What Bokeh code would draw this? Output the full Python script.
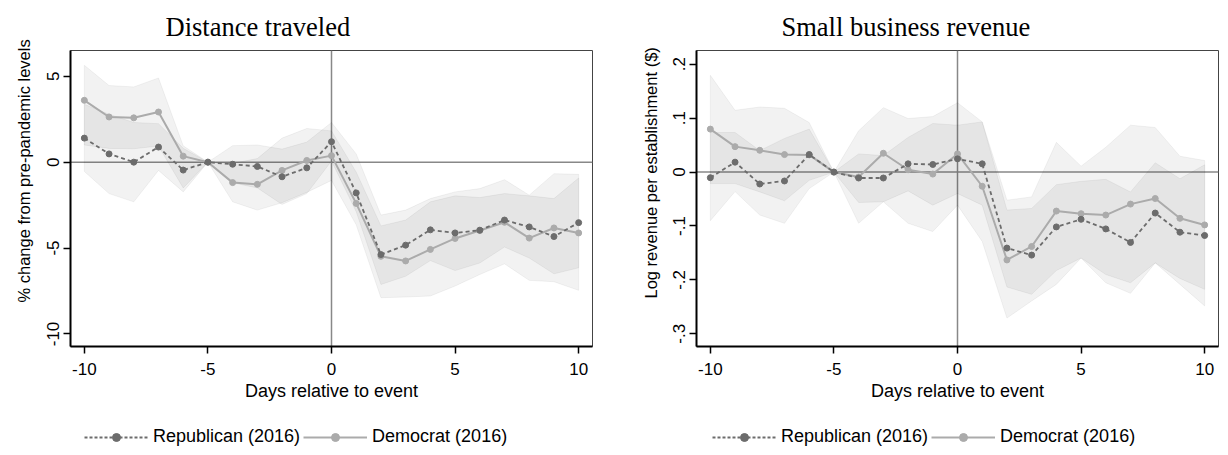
from bokeh.plotting import figure
from bokeh.models import Range1d, FixedTicker, Span, Legend, LegendItem, Title
from bokeh.layouts import row, column
from bokeh.embed import file_html
from bokeh.resources import INLINE

days = list(range(-10, 11))
x_ticks = [-10, -5, 0, 5, 10]
x_tick_labels = ["-10", "-5", "0", "5", "10"]

# Panel 1: Distance traveled
dist_rep = [1.40, 0.48, 0.00, 0.88, -0.46, 0.00, -0.12, -0.25, -0.85, -0.33, 1.19,
            -1.79, -5.38, -4.83, -3.94, -4.12, -3.96, -3.37, -3.77, -4.33, -3.52]
dist_rep_hi = [3.37, 2.79, 2.31, 2.24, 0.81, 0.00, 0.96, 1.00, 0.76, 1.17, 2.31,
               0.48, -3.08, -2.79, -2.12, -1.73, -1.54, -1.02, -1.92, -0.67, -0.71]
dist_rep_lo = [-0.54, -1.83, -2.31, -0.48, -1.73, 0.00, -1.20, -1.50, -2.46, -1.83, 0.07,
               -2.88, -7.12, -6.64, -5.73, -6.31, -5.87, -4.94, -5.58, -6.50, -6.15]
dist_dem = [3.60, 2.63, 2.58, 2.92, 0.35, 0.00, -1.19, -1.29, -0.48, 0.10, 0.38,
            -2.40, -5.48, -5.75, -5.08, -4.44, -3.98, -3.50, -4.42, -3.83, -4.12]
dist_dem_hi = [5.64, 4.46, 4.38, 4.90, 0.95, 0.00, -0.07, 0.21, 1.40, 1.96, 1.82,
               -0.58, -3.71, -3.37, -2.31, -1.96, -2.06, -1.83, -1.96, -2.12, -0.92]
dist_dem_lo = [1.00, 0.80, 0.78, 0.94, -1.50, 0.00, -2.31, -2.79, -2.36, -1.76, -1.06,
               -3.65, -7.89, -7.85, -7.79, -7.21, -6.54, -5.92, -6.88, -6.96, -7.46]
dist_y_ticks = [-10, -5, 0, 5]
dist_y_labels = ["-10", "-5", "0", "5"]

# Panel 2: Small business revenue
rev_rep = [-0.0104, 0.0184, -0.0221, -0.0165, 0.0325, 0.0, -0.0110, -0.0110, 0.0153, 0.0141, 0.0245,
           0.0153, -0.141, -0.154, -0.1017, -0.0876, -0.1054, -0.1305, -0.0760, -0.1115, -0.1176]
rev_rep_hi = [0.0735, 0.0735, 0.0398, 0.0625, 0.0797, 0.0, 0.0337, 0.0306, 0.0643, 0.0901, 0.0870,
              0.0931, -0.0705, -0.0674, -0.0233, -0.0172, -0.0135, -0.0368, 0.0172, -0.0123, 0.0135]
rev_rep_lo = [-0.0901, -0.0362, -0.0797, -0.0950, -0.0306, 0.0, -0.0950, -0.0551, -0.0950, -0.1103, -0.0613,
              -0.1287, -0.2708, -0.2390, -0.2083, -0.1593, -0.2053, -0.2249, -0.1685, -0.2083, -0.2482]
rev_dem = [0.0797, 0.0472, 0.0404, 0.0325, 0.0319, 0.0, -0.0092, 0.0349, 0.0043, -0.0037, 0.0337,
           -0.0263, -0.163, -0.138, -0.0723, -0.0772, -0.0797, -0.0594, -0.0490, -0.0858, -0.098]
rev_dem_hi = [0.1795, 0.1146, 0.1207, 0.1183, 0.0919, 0.0, 0.0766, 0.1195, 0.0993, 0.1029, 0.1287,
              0.0931, -0.0521, -0.0460, 0.0551, 0.0110, 0.0460, 0.0870, 0.0827, 0.0294, 0.0214]
rev_dem_lo = [-0.0214, -0.0214, -0.0368, -0.0533, -0.0153, 0.0, -0.0564, -0.0551, -0.0349, -0.0613, -0.0398,
              -0.0613, -0.2132, -0.2267, -0.1826, -0.1593, -0.1900, -0.2053, -0.1685, -0.1973, -0.2175]
rev_y_ticks = [-0.3, -0.2, -0.1, 0.0, 0.1, 0.2]
rev_y_labels = ["-.3", "-.2", "-.1", "0", ".1", ".2"]

legend_labels = ["Republican (2016)", "Democrat (2016)"]

REP_COLOR = "#6c6c6c"
DEM_COLOR = "#ababab"
SANS = "Liberation Sans"
SERIF = "Liberation Serif"
W = 612
H = 420
LEG_H = 32


def make_panel(title, ylabel, rep, rep_lo, rep_hi, dem, dem_lo, dem_hi, y_range, y_ticks, y_labels,
               min_left, min_right, title_offset, ylabel_offset, ylabel_standoff):
    p = figure(width=W, height=H, output_backend="svg", toolbar_location=None,
               x_range=Range1d(-10.56, 10.56), y_range=Range1d(*y_range),
               min_border_left=min_left, min_border_right=min_right,
               min_border_top=47, min_border_bottom=H - 346)
    p.background_fill_color = "white"
    p.border_fill_color = "white"
    p.outline_line_color = "#444444"
    p.outline_line_width = 1
    p.xgrid.visible = False
    p.ygrid.visible = False

    p.title.text = title
    p.title.text_font = SERIF
    p.title.text_font_size = "26.5px"
    p.title.text_font_style = "normal"
    p.title.text_color = "black"
    p.title.align = "left"
    p.title.offset = title_offset
    p.title.standoff = 18

    # confidence bands
    for lo, hi in ((rep_lo, rep_hi), (dem_lo, dem_hi)):
        p.patch(days + days[::-1], hi + lo[::-1], fill_color="black", fill_alpha=0.05,
                line_color="black", line_alpha=0.05, line_width=1)

    p.add_layout(Span(location=0, dimension="width", line_color="#888888", line_width=1.5, level="underlay"))
    p.add_layout(Span(location=0, dimension="height", line_color="#888888", line_width=1.5, level="underlay"))

    p.line(days, dem, line_color=DEM_COLOR, line_width=2)
    p.scatter(days, dem, size=6, fill_color=DEM_COLOR, line_color=DEM_COLOR)
    p.line(days, rep, line_color=REP_COLOR, line_width=1.8, line_dash="4 3")
    p.scatter(days, rep, size=6, fill_color=REP_COLOR, line_color=REP_COLOR)

    p.xaxis.ticker = FixedTicker(ticks=x_ticks)
    p.xaxis.major_label_overrides = dict(zip(x_ticks, x_tick_labels))
    p.yaxis.ticker = FixedTicker(ticks=y_ticks)
    p.yaxis.major_label_overrides = dict(zip(y_ticks, y_labels))
    p.yaxis.major_label_orientation = "vertical"

    for ax in (p.xaxis[0], p.yaxis[0]):
        ax.axis_line_color = "black"
        ax.axis_line_width = 2
        ax.major_tick_line_color = "black"
        ax.major_tick_line_width = 1.5
        ax.major_tick_out = 7
        ax.major_tick_in = 0
        ax.minor_tick_out = 0
        ax.minor_tick_in = 0
        ax.major_label_text_font = SANS
        ax.major_label_text_font_size = "17px"
        ax.major_label_text_color = "black"
        ax.axis_label_text_font = SANS
        ax.axis_label_text_font_style = "normal"
        ax.axis_label_text_color = "black"
    p.xaxis.axis_label_text_font_size = "18px"
    p.xaxis.axis_label = "Days relative to event"
    p.xaxis.major_label_standoff = 9
    p.xaxis.axis_label_standoff = 3
    p.yaxis.major_label_standoff = 4

    yt = Title(text=ylabel, align="left", offset=ylabel_offset, text_font=SANS,
               text_font_size="16.5px", text_font_style="normal",
               text_color="black", standoff=ylabel_standoff)
    p.add_layout(yt, "left")
    return p


def make_legend_fig(legend_x, rep, dem):
    # legend strip below a panel; the series are drawn out of view so only the legend shows
    f = figure(width=W, height=LEG_H, output_backend="svg", toolbar_location=None,
               x_axis_type=None, y_axis_type=None, min_border=0,
               x_range=Range1d(100, 101), y_range=Range1d(100, 101))
    f.outline_line_color = None
    f.xgrid.visible = False
    f.ygrid.visible = False
    rl = f.line(days, rep, line_color=REP_COLOR, line_width=1.8, line_dash="3 2")
    rs = f.scatter(days, rep, size=5, fill_color=REP_COLOR, line_color=REP_COLOR)
    dl = f.line(days, dem, line_color=DEM_COLOR, line_width=2)
    ds = f.scatter(days, dem, size=5, fill_color=DEM_COLOR, line_color=DEM_COLOR)
    legend = Legend(items=[LegendItem(label=legend_labels[0], renderers=[rl, rs]),
                           LegendItem(label=legend_labels[1], renderers=[dl, ds])],
                    orientation="horizontal", location=(legend_x, 5),
                    glyph_width=64, glyph_height=20, label_standoff=5, spacing=3,
                    padding=0, margin=0, border_line_alpha=0, background_fill_alpha=0,
                    label_text_font=SANS, label_text_font_size="18px", label_text_color="black")
    f.add_layout(legend, "center")
    return f


p1 = make_panel("Distance traveled", "% change from pre-pandemic levels",
                dist_rep, dist_rep_lo, dist_rep_hi, dist_dem, dist_dem_lo, dist_dem_hi,
                (-10.73, 6.5), dist_y_ticks, dist_y_labels, 68, W - 592, 95, 44, 24)
p2 = make_panel("Small business revenue", "Log revenue per establishment ($)",
                rev_rep, rev_rep_lo, rev_rep_hi, rev_dem, rev_dem_lo, rev_dem_hi,
                (-0.3235, 0.2255), rev_y_ticks, rev_y_labels, 696 - W, 2 * W - 1218, 85, 48, 22)
l1 = make_legend_fig(84, dist_rep, dist_dem)
l2 = make_legend_fig(712 - W, rev_rep, rev_dem)

layout = column(row(p1, p2), row(l1, l2))
open("out.html", "w").write(file_html(layout, INLINE))
